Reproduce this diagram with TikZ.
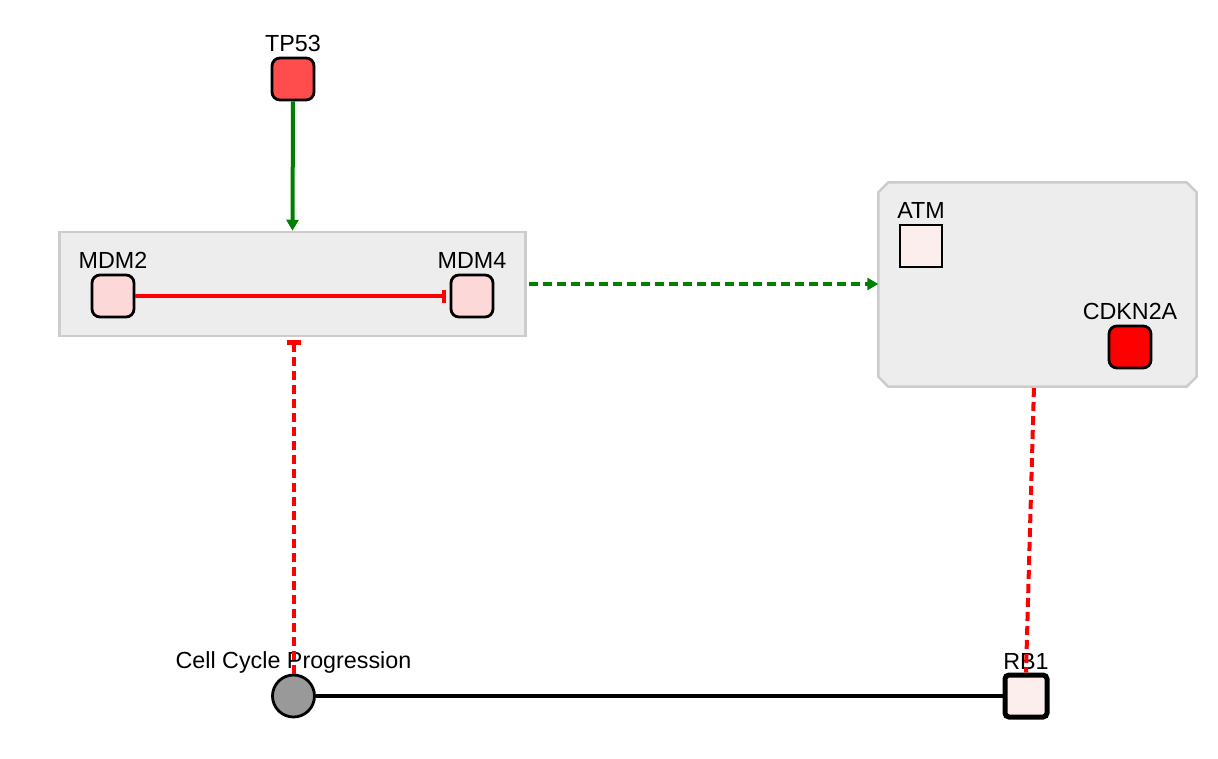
\documentclass[tikz,border=0pt]{standalone}
\usepackage{fontspec}
\setmainfont{Liberation Sans}
\usetikzlibrary{arrows.meta}

\definecolor{grpfill}{HTML}{EDEDED}
\definecolor{grpline}{HTML}{CCCCCC}
\definecolor{actgreen}{HTML}{008000}
\definecolor{inhred}{HTML}{FF0000}
\definecolor{tpred}{HTML}{FF4C4C}
\definecolor{mdmpink}{HTML}{FDD8D8}
\definecolor{palepink}{HTML}{FDEEEE}
\definecolor{ccpgrey}{HTML}{999999}

\begin{document}
\begin{tikzpicture}[
  x=1pt, y=-1pt,
  font=\fontsize{23.3}{27}\selectfont,
  every label/.style={inner sep=0pt, text depth=0pt},
  label distance=5pt,
  gene/.style={draw, line width=2.8pt, rounded corners=8pt, minimum size=42pt, inner sep=0pt},
  plain/.style={draw, line width=2.8pt, minimum size=42pt, inner sep=0pt},
  grp/.style={draw=grpline, fill=grpfill, line width=2.5pt, inner sep=0pt},
  act/.style={-{Triangle[width=12pt,length=11pt]}, actgreen, line width=4pt},
  inh/.style={inhred, line width=4pt},
  dsh/.style={dash pattern=on 9pt off 5pt}
]
\useasboundingbox (0,0) rectangle (1218,758);

% groups
\node[grp, minimum width=466pt, minimum height=104pt] (mdmgrp) at (292.5,284) {};
\node[inner sep=0pt, minimum width=318pt, minimum height=204pt] (atmgrp) at (1037.5,284.5) {};
\draw[grp] ([xshift=10pt]atmgrp.north west) -- ([xshift=-10pt]atmgrp.north east)
  -- ([yshift=-10pt]atmgrp.north east) -- ([yshift=10pt]atmgrp.south east)
  -- ([xshift=-10pt]atmgrp.south east) -- ([xshift=10pt]atmgrp.south west)
  -- ([yshift=10pt]atmgrp.south west) -- ([yshift=-10pt]atmgrp.north west) -- cycle;

% genes
\node[gene, fill=tpred, label=above:TP53] (tp53) at (293,79) {};
\node[gene, fill=mdmpink, label=above:MDM2] (mdm2) at (113,296) {};
\node[gene, fill=mdmpink, label=above:MDM4] (mdm4) at (472,296) {};
\node[plain, fill=palepink, label=above:ATM] (atm) at (921,246) {};
\node[gene, fill=inhred, label=above:CDKN2A] (cdkn2a) at (1130,347) {};
\node[draw, line width=5pt, rounded corners=4pt, minimum size=42pt, inner sep=0pt,
      fill=palepink, label={[label distance=3pt]above:RB1}] (rb1) at (1026,696) {};
\node[circle, draw, line width=2.8pt, fill=ccpgrey, minimum size=42pt, inner sep=0pt,
      label=above:Cell Cycle Progression] (ccp) at (293.5,696) {};

% edges
\draw[act] (tp53.south) -- (mdmgrp.north);
\draw[inh, -{Bar[width=13pt,line width=4pt]}, shorten >=4pt] (mdm2.east) -- (mdm4.west);
\draw[act, dsh, shorten <=2pt] (mdmgrp.east |- 0,284) -- (atmgrp.west |- 0,284);
\draw[inh, dsh, -{Bar[width=14pt,line width=5pt]}, shorten >=3pt] (ccp.north) -- (ccp.north |- mdmgrp.south);
\draw[inh, dsh, shorten <=2pt] (1034,386) -- (rb1.north);
\draw[line width=4pt] (ccp) -- (rb1);
\end{tikzpicture}
\end{document}
